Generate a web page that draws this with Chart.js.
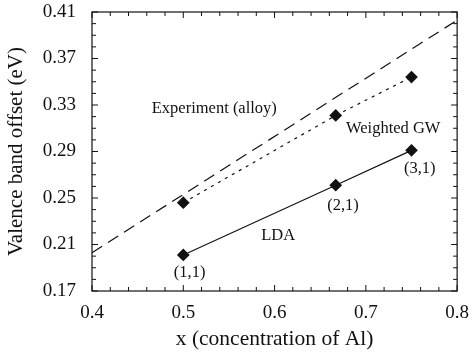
<!DOCTYPE html>
<html lang="en">
<head>
  <meta charset="UTF-8" />
  <title>Valence band offset</title>
  <script src="https://cdn.jsdelivr.net/npm/chart.js"></script>
  <style>
    html, body { margin: 0; padding: 0; background: #fff; }
    #wrap { width: 472px; height: 354px; }
  </style>
</head>
<body>
  <div id="wrap"><canvas id="offsetChart"></canvas></div>

  <script>
    // data
    const calcX = [0.5, 0.667, 0.75];
    const ldaY = [0.201, 0.261, 0.291];
    const gwY = [0.246, 0.321, 0.354];
    const expX = [0.4, 0.8];
    const expY = [0.203, 0.403];
    const xTicks = [0.4, 0.5, 0.6, 0.7, 0.8];
    const yTicks = [0.17, 0.21, 0.25, 0.29, 0.33, 0.37, 0.41];

    // text labels placed in data coordinates
    const notes = [
      { text: 'Experiment (alloy)', x: 0.534, y: 0.327 },
      { text: 'Weighted GW', x: 0.730, y: 0.310 },
      { text: 'LDA', x: 0.604, y: 0.218 },
      { text: '(1,1)', x: 0.507, y: 0.1855 },
      { text: '(2,1)', x: 0.675, y: 0.243 },
      { text: '(3,1)', x: 0.759, y: 0.275 }
    ];

    const serif = '"Liberation Serif", "Times New Roman", serif';
    const ink = '#111';

    const framePlugin = {
      id: 'frame',
      afterDatasetsDraw(chart) {
        const { ctx, chartArea: a, scales } = chart;
        ctx.save();
        ctx.strokeStyle = ink;
        ctx.lineWidth = 1.2;
        ctx.strokeRect(a.left, a.top, a.right - a.left, a.bottom - a.top);

        ctx.lineWidth = 1;
        ctx.beginPath();
        // x ticks every 0.02, inward on bottom and top
        for (let i = 0; i <= 20; i++) {
          const v = 0.4 + i * 0.02;
          const px = scales.x.getPixelForValue(v);
          const len = i % 5 === 0 ? 6 : 4;
          ctx.moveTo(px, a.bottom); ctx.lineTo(px, a.bottom - len);
          ctx.moveTo(px, a.top); ctx.lineTo(px, a.top + len);
        }
        // y ticks every 0.01, inward on left and right
        for (let i = 0; i <= 24; i++) {
          const v = 0.17 + i * 0.01;
          const py = scales.y.getPixelForValue(v);
          const len = i % 4 === 0 ? 6 : 4;
          ctx.moveTo(a.left, py); ctx.lineTo(a.left + len, py);
          ctx.moveTo(a.right, py); ctx.lineTo(a.right - len, py);
        }
        ctx.stroke();

        ctx.fillStyle = ink;
        ctx.font = '16.5px ' + serif;
        ctx.textAlign = 'center';
        ctx.textBaseline = 'middle';
        notes.forEach(n => {
          ctx.fillText(n.text, scales.x.getPixelForValue(n.x), scales.y.getPixelForValue(n.y));
        });
        ctx.restore();
      }
    };

    const toPts = (xs, ys) => xs.map((x, i) => ({ x: x, y: ys[i] }));

    new Chart(document.getElementById('offsetChart'), {
      type: 'scatter',
      data: {
        datasets: [
          {
            label: 'Experiment (alloy)',
            data: toPts(expX, expY),
            showLine: true,
            borderColor: ink,
            borderWidth: 1.2,
            borderDash: [12, 7],
            pointRadius: 0
          },
          {
            label: 'Weighted GW',
            data: toPts(calcX, gwY),
            showLine: true,
            borderColor: ink,
            borderWidth: 1.2,
            borderDash: [3, 5],
            pointStyle: 'rectRot',
            pointRadius: 5.5,
            pointBackgroundColor: ink,
            pointBorderColor: ink
          },
          {
            label: 'LDA',
            data: toPts(calcX, ldaY),
            showLine: true,
            borderColor: ink,
            borderWidth: 1.2,
            pointStyle: 'rectRot',
            pointRadius: 5.5,
            pointBackgroundColor: ink,
            pointBorderColor: ink
          }
        ]
      },
      options: {
        responsive: true,
        maintainAspectRatio: false,
        animation: false,
        layout: { padding: { top: 0, right: 4, left: 0, bottom: 0 } },
        plugins: { legend: { display: false }, tooltip: { enabled: false } },
        scales: {
          x: {
            type: 'linear',
            min: 0.4,
            max: 0.8,
            afterBuildTicks: s => { s.ticks = xTicks.map(v => ({ value: v })); },
            afterFit: s => { s.height = 63; },
            grid: { display: false },
            border: { display: false },
            ticks: {
              color: ink,
              padding: 3,
              font: { family: serif, size: 19 },
              callback: v => v.toFixed(1)
            },
            title: {
              display: true,
              text: 'x (concentration of Al)',
              color: ink,
              font: { family: serif, size: 21.5 },
              padding: { top: 0, bottom: 2 }
            }
          },
          y: {
            type: 'linear',
            min: 0.17,
            max: 0.41,
            afterBuildTicks: s => { s.ticks = yTicks.map(v => ({ value: v })); },
            afterFit: s => { s.width = 92; s.paddingTop = 12; s.paddingBottom = 0; },
            grid: { display: false },
            border: { display: false },
            ticks: {
              color: ink,
              padding: 8,
              font: { family: serif, size: 19 },
              callback: v => v.toFixed(2)
            },
            title: {
              display: true,
              text: 'Valence band offset (eV)',
              color: ink,
              font: { family: serif, size: 21 },
              padding: { bottom: 2 }
            }
          }
        }
      },
      plugins: [framePlugin]
    });
  </script>
</body>
</html>
